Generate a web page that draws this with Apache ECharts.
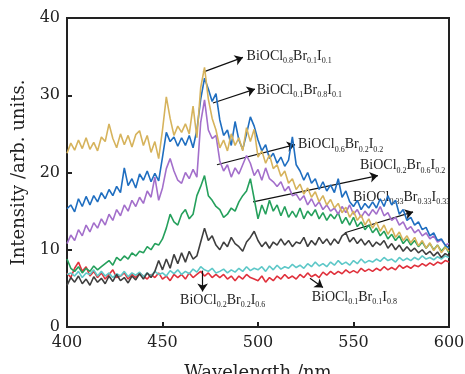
<!DOCTYPE html>
<html><head><meta charset="utf-8">
<script src="https://cdn.jsdelivr.net/npm/echarts@6/dist/echarts.min.js"></script>
<style>html,body{margin:0;padding:0;background:#fff}#c{width:465px;height:374px}</style>
</head><body><div id="c"></div>
<script>
// wavelength grid (nm), 2 nm steps from 400 to 600
const wavelengths = [];
for (let w = 400; w <= 600; w += 2) wavelengths.push(w);

const gold = [22.5,23.8,22.9,24.2,23.1,24.5,23.0,23.9,22.8,24.6,
 24.0,26.3,24.4,23.2,25.0,23.6,24.8,23.3,24.9,25.4,
 23.5,24.8,22.6,24.0,21.8,25.5,29.8,27.0,24.8,26.0,
 25.2,26.3,25.0,28.6,24.5,31.0,33.6,29.5,27.0,25.5,
 23.2,24.2,22.8,25.0,23.5,24.5,22.8,25.8,24.0,25.6,
 22.0,22.8,21.2,22.3,20.5,21.0,19.5,20.2,18.6,19.2,
 17.8,18.5,17.2,18.0,16.8,17.5,16.2,17.0,15.8,16.5,
 15.4,16.0,14.8,15.5,14.2,15.0,13.8,14.5,13.2,14.0,
 12.8,13.6,12.4,13.2,12.0,12.8,11.6,12.3,11.2,11.8,
 10.9,11.6,10.5,11.2,10.2,10.9,9.9,10.6,9.6,10.3,9.8];
const blue = [15.3,15.8,14.9,16.6,15.6,16.9,15.8,17.0,16.2,17.4,
 16.6,17.8,17.0,18.2,17.4,20.6,18.3,19.2,18.0,19.8,
 19.0,20.2,18.8,19.9,18.9,22.0,25.2,24.0,24.6,23.4,
 24.5,23.5,24.8,23.2,25.5,29.5,32.2,30.8,29.2,30.2,
 26.8,24.8,25.5,23.5,26.6,24.2,23.0,25.0,27.2,26.0,
 24.2,22.8,23.6,21.8,22.5,21.2,22.0,20.8,21.6,24.6,
 21.0,20.2,19.0,20.0,18.6,19.2,17.8,18.8,17.6,18.4,
 17.4,19.2,16.8,17.6,16.2,15.6,16.4,15.2,16.0,15.4,
 16.2,15.4,16.6,15.6,17.0,15.8,16.4,14.6,15.2,13.8,
 14.2,13.2,13.6,12.6,12.9,11.8,12.2,11.2,11.4,10.6,10.2];
const purple = [10.8,11.9,11.2,12.6,11.8,13.2,12.3,13.5,12.8,14.0,
 13.2,14.6,13.8,15.2,14.4,15.8,15.0,16.4,15.6,16.8,
 16.0,17.6,16.8,19.4,16.4,18.0,20.5,21.8,20.2,19.0,
 18.6,20.0,19.2,20.4,19.4,26.5,29.4,25.5,24.4,24.8,
 21.5,20.2,21.0,19.4,20.6,19.8,21.0,22.2,21.2,19.6,
 20.4,19.0,20.6,19.2,18.8,18.2,18.8,17.6,18.2,17.0,
 17.2,16.4,17.0,15.8,16.6,15.6,16.2,15.2,15.8,15.0,
 15.4,14.6,15.6,14.8,15.8,14.6,15.2,14.2,15.0,14.4,
 15.2,14.6,15.6,14.4,14.8,13.8,14.2,13.2,13.6,12.6,
 13.0,12.2,12.6,11.8,12.2,11.4,11.8,11.0,11.3,10.6,10.8];
const green = [8.8,7.6,7.2,7.8,7.0,7.6,7.2,7.9,7.4,7.8,
 8.2,8.6,8.0,9.0,8.6,9.2,8.8,9.6,9.2,9.8,
 9.6,10.4,10.0,10.8,10.6,11.4,12.8,14.6,13.6,13.2,
 14.6,15.2,14.0,14.6,17.0,18.2,19.6,17.0,16.4,15.6,
 15.2,14.2,14.6,15.4,15.0,16.2,17.0,17.6,19.2,16.6,
 14.0,15.8,14.6,16.4,15.0,15.8,14.4,15.6,14.2,15.0,
 14.2,15.4,14.0,15.0,14.4,15.2,14.0,14.8,13.8,14.6,
 14.0,14.8,13.4,14.2,13.2,14.2,13.0,13.6,12.6,13.2,
 12.2,12.8,11.8,12.4,11.4,12.0,11.2,11.8,10.8,11.4,
 10.6,11.2,10.4,11.0,10.2,10.8,10.0,10.6,9.8,10.4,9.6];
const grey = [5.4,6.4,5.8,6.6,5.6,6.2,5.4,6.5,5.8,6.3,
 5.6,6.6,5.9,6.8,6.0,6.4,5.7,6.6,6.1,6.9,
 6.2,7.0,6.4,7.2,8.6,7.4,8.8,7.6,9.4,8.2,
 9.6,8.4,9.8,8.8,9.2,11.0,12.8,11.2,11.8,10.6,
 10.0,11.0,10.4,11.6,10.8,10.4,9.8,11.0,11.6,12.4,
 11.2,10.4,11.0,10.2,11.0,10.6,11.4,10.6,11.2,10.4,
 11.0,10.8,11.6,10.4,11.2,10.6,11.6,10.8,11.4,10.6,
 11.4,10.8,11.8,12.2,11.0,11.6,10.8,11.4,10.6,11.2,
 10.4,11.0,10.6,11.2,10.2,10.8,10.0,10.6,9.8,10.4,
 9.8,10.2,9.6,10.0,9.4,9.8,9.2,9.7,9.0,9.5,9.2];
const cyan = [6.8,7.0,6.6,7.2,6.4,7.0,6.8,7.4,6.6,7.2,
 6.6,7.0,6.4,6.9,6.6,7.2,6.5,7.0,6.7,7.1,
 6.5,7.0,6.6,7.2,6.8,7.0,6.6,7.3,6.9,7.4,
 6.8,7.2,6.9,7.5,7.1,7.8,7.4,7.2,7.6,7.0,
 7.2,7.5,7.0,7.4,7.1,7.6,7.2,7.8,7.3,7.6,
 7.4,7.8,7.2,7.9,7.4,8.0,7.5,7.8,7.6,8.1,
 7.7,8.0,7.6,8.2,7.8,8.4,7.9,8.2,7.8,8.4,
 8.0,8.6,8.1,8.4,8.0,8.6,8.2,8.8,8.3,8.6,
 8.4,8.8,8.5,9.0,8.6,8.8,8.4,9.0,8.6,8.9,
 8.6,9.0,8.7,9.2,8.8,9.0,8.7,9.1,8.8,9.2,9.0];
const red = [7.0,6.4,7.6,8.4,7.2,7.8,6.6,7.2,6.4,7.0,
 6.2,6.8,7.4,6.4,6.6,7.0,6.2,6.8,6.4,7.0,
 6.6,6.2,6.8,6.4,7.0,6.2,6.6,6.0,6.8,6.4,
 6.8,6.2,7.0,6.4,6.8,7.2,6.6,7.0,6.4,6.8,
 6.4,6.8,6.2,6.6,6.0,6.6,6.2,6.8,6.4,6.2,
 6.0,6.6,5.8,6.4,6.0,6.6,6.2,6.8,6.3,6.6,
 6.2,6.8,6.4,7.0,6.5,6.8,6.4,7.1,6.7,7.2,
 6.8,7.2,6.9,7.4,7.0,7.3,7.0,7.6,7.2,7.5,
 7.2,7.6,7.3,7.8,7.4,7.7,7.4,8.0,7.6,7.9,
 7.6,8.0,7.8,8.2,7.9,8.3,8.0,8.4,8.2,8.6,8.4];

const seriesNames = ['BiOCl0.8Br0.1I0.1','BiOCl0.1Br0.8I0.1','BiOCl0.6Br0.2I0.2','BiOCl0.2Br0.6I0.2','BiOCl0.33Br0.33I0.33','BiOCl0.2Br0.2I0.6','BiOCl0.1Br0.1I0.8'];
const seriesValues = [gold, blue, purple, green, grey, cyan, red];
const seriesColors = ['#D6B35C','#1F6EC0','#A36FCB','#25A05C','#3F3F3F','#5EC8C8','#E0313C'];

// annotation labels (rich text with subscripts)
const labelTexts = [
 'BiOCl{s|0.8}Br{s|0.1}I{s|0.1}',
 'BiOCl{s|0.1}Br{s|0.8}I{s|0.1}',
 'BiOCl{s|0.6}Br{s|0.2}I{s|0.2}',
 'BiOCl{s|0.2}Br{s|0.6}I{s|0.2}',
 'BiOCl{s|0.33}Br{s|0.33}I{s|0.33}',
 'BiOCl{s|0.2}Br{s|0.2}I{s|0.6}',
 'BiOCl{s|0.1}Br{s|0.1}I{s|0.8}'
];
const labelAnchors = [[494,35.1],[499.3,30.7],[521,23.6],[553.4,20.9],[549.7,16.8],[459.2,3.5],[528.1,3.9]];
const arrowStarts = [[471.2,33.0],[476.4,29.0],[478.5,21.0],[497.4,16.2],[545.5,12.2],[471.0,7.3],[527.2,6.3]];
const arrowEnds = [[492.1,34.9],[498.4,30.8],[519.4,23.6],[562.8,19.6],[581.2,14.9],[471.0,4.6],[534.0,5.1]];

const serif = 'DejaVu Serif';
const series = seriesValues.map((vals, i) => ({
  name: seriesNames[i], type: 'line', showSymbol: false, silent: true,
  data: vals.map((v, j) => [wavelengths[j], v]),
  lineStyle: { color: seriesColors[i], width: 1.6 },
  itemStyle: { color: seriesColors[i] },
  z: 10 - i
}));

series.push({
  name: 'annotations', type: 'line', data: [], silent: true, z: 20,
  markLine: {
    silent: true, symbol: ['none', 'arrow'], symbolSize: 8,
    lineStyle: { color: '#111', width: 1.2, type: 'solid' },
    label: { show: false },
    data: arrowStarts.map((s, i) => [{ coord: s }, { coord: arrowEnds[i] }])
  },
  markPoint: {
    silent: true, symbol: 'circle', symbolSize: 0,
    label: {
      show: true, position: 'right', distance: 0, color: '#222',
      fontFamily: 'Liberation Serif', fontSize: 14, lineHeight: 18, verticalAlign: 'middle',
      formatter: p => labelTexts[p.dataIndex],
      rich: { s: { fontFamily: 'Liberation Serif', fontSize: 8, lineHeight: 10, verticalAlign: 'bottom', color: '#222' } }
    },
    data: labelAnchors.map(a => ({ coord: a, value: '' }))
  }
});

const chart = echarts.init(document.getElementById('c'), null, { renderer: 'canvas' });
chart.setOption({
  animation: false,
  backgroundColor: '#fff',
  grid: { left: 67, right: 16, top: 18, bottom: 47, outerBoundsMode: 'none', containLabel: false,
          show: true, borderColor: '#222', borderWidth: 2, backgroundColor: 'transparent' },
  xAxis: {
    type: 'value', min: 400, max: 600, interval: 50,
    name: 'Wavelength /nm', nameLocation: 'middle', nameGap: 37,
    nameTextStyle: { fontFamily: serif, fontSize: 18, color: '#222' },
    axisLine: { lineStyle: { color: '#222', width: 2 } },
    axisTick: { inside: true, length: 5, lineStyle: { color: '#222', width: 2 } },
    axisLabel: { fontFamily: serif, fontSize: 16, color: '#222', margin: 8 },
    splitLine: { show: false }
  },
  yAxis: {
    type: 'value', min: 0, max: 40, interval: 10,
    name: 'Intensity /arb. units.', nameLocation: 'middle', nameGap: 38,
    nameTextStyle: { fontFamily: serif, fontSize: 18, color: '#222' },
    axisLine: { lineStyle: { color: '#222', width: 2 } },
    axisTick: { inside: true, length: 5, lineStyle: { color: '#222', width: 2 } },
    axisLabel: { fontFamily: serif, fontSize: 16, color: '#222', margin: 7 },
    splitLine: { show: false }
  },
  series: series
});
</script>
</body></html>
